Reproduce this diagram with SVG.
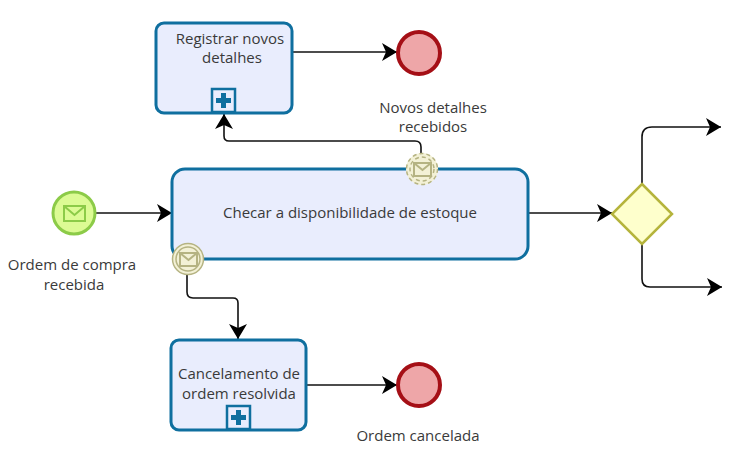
<svg xmlns="http://www.w3.org/2000/svg" width="756" height="460" viewBox="0 0 756 460">
<defs>
<style>
text{font-family:"Open Sans","DejaVu Sans",sans-serif;font-size:15px;fill:#3a3a3a;text-anchor:middle}
.task{fill:#e9edfd;stroke:#0f6f9f;stroke-width:3}
.mk{fill:#e9edfd;stroke:#0f6f9f;stroke-width:2.5}
.plus{fill:#0f6f9f}
.end{fill:#eea6a8;stroke:#a50f16;stroke-width:4}
.c{fill:none;stroke:#111;stroke-width:1.6}
.env{fill:none;stroke:#b5b382;stroke-width:2}
</style>
<marker id="a" markerUnits="userSpaceOnUse" markerWidth="18" markerHeight="20" refX="16" refY="10" orient="auto"><path d="M1 1L16 10L1 19L5 10Z" fill="#000"/></marker>
</defs>
<g id="connectors">
<path class="c" d="M293 52H397" marker-end="url(#a)"/>
<path class="c" d="M96 213H172" marker-end="url(#a)"/>
<path class="c" d="M529 213H612" marker-end="url(#a)"/>
<path class="c" d="M421 153V147Q421 141 415 141H229Q224 141 224 136V114" marker-end="url(#a)"/>
<path class="c" d="M187 275V292Q187 298 193 298H233Q238 298 238 303V339" marker-end="url(#a)"/>
<path class="c" d="M307 385H397" marker-end="url(#a)"/>
<path class="c" d="M642 183V137Q642 127 652 127H721" marker-end="url(#a)"/>
<path class="c" d="M642 244V279Q642 287 650 287H722" marker-end="url(#a)"/>
</g>
<g id="task-registrar">
<rect class="task" x="156" y="23" width="136" height="90" rx="8"/>
<text x="230" y="44">Registrar novos</text>
<text x="232" y="63">detalhes</text>
<rect class="mk" x="212" y="89" width="23" height="23"/>
<path class="plus" d="M221 93h5v5h5v5h-5v5h-5v-5h-5v-5h5z"/>
</g>
<g id="end-novos"><circle class="end" cx="419" cy="53" r="21"/></g>
<text x="433" y="113">Novos detalhes</text>
<text x="433" y="132">recebidos</text>
<g id="task-checar">
<rect class="task" x="172" y="169" width="356" height="90" rx="13"/>
<text x="350" y="218">Checar a disponibilidade de estoque</text>
</g>
<g id="boundary-novos">
<circle cx="422" cy="169" r="16" fill="#f3f1d6"/>
<circle cx="422" cy="169" r="15.5" fill="none" stroke="#b5b382" stroke-width="1.5" stroke-dasharray="4 3"/>
<circle cx="422" cy="169" r="12" fill="none" stroke="#b5b382" stroke-width="1.5" stroke-dasharray="4 3"/>
<rect class="env" x="414" y="163" width="17" height="13"/><path class="env" d="M414 163L422.500 170L431 163"/>
</g>
<g id="start-ordem">
<circle cx="74" cy="213" r="21" fill="#dcfb94" stroke="#8ccb48" stroke-width="3"/>
<rect x="64" y="206" width="21" height="15" fill="none" stroke="#8ccb48" stroke-width="2"/><path d="M64 206L74.500 215L85 206" fill="none" stroke="#8ccb48" stroke-width="2"/>
</g>
<text x="72" y="270">Ordem de compra</text>
<text x="74" y="290">recebida</text>
<g id="boundary-cancel">
<circle cx="188" cy="259" r="15.500" fill="#f3f1d6" stroke="#b5b382" stroke-width="1.500"/>
<circle cx="188" cy="259" r="12" fill="none" stroke="#b5b382" stroke-width="1.500"/>
<rect class="env" x="180" y="253" width="17" height="13"/><path class="env" d="M180 253L188.500 260L197 253"/>
</g>
<g id="task-cancelamento">
<rect class="task" x="171" y="340" width="135" height="90" rx="8"/>
<text x="239" y="379">Cancelamento de</text>
<text x="239" y="399">ordem resolvida</text>
<rect class="mk" x="227" y="406" width="23" height="23"/>
<path class="plus" d="M236 410h5v5h5v5h-5v5h-5v-5h-5v-5h5z"/>
</g>
<g id="end-cancel"><circle class="end" cx="419" cy="385" r="21"/></g>
<text x="418" y="441">Ordem cancelada</text>
<g id="gateway"><path d="M642 184L672 214L642 244L612 214Z" fill="#feffcc" stroke="#b5b43c" stroke-width="2.500"/></g>
</svg>
